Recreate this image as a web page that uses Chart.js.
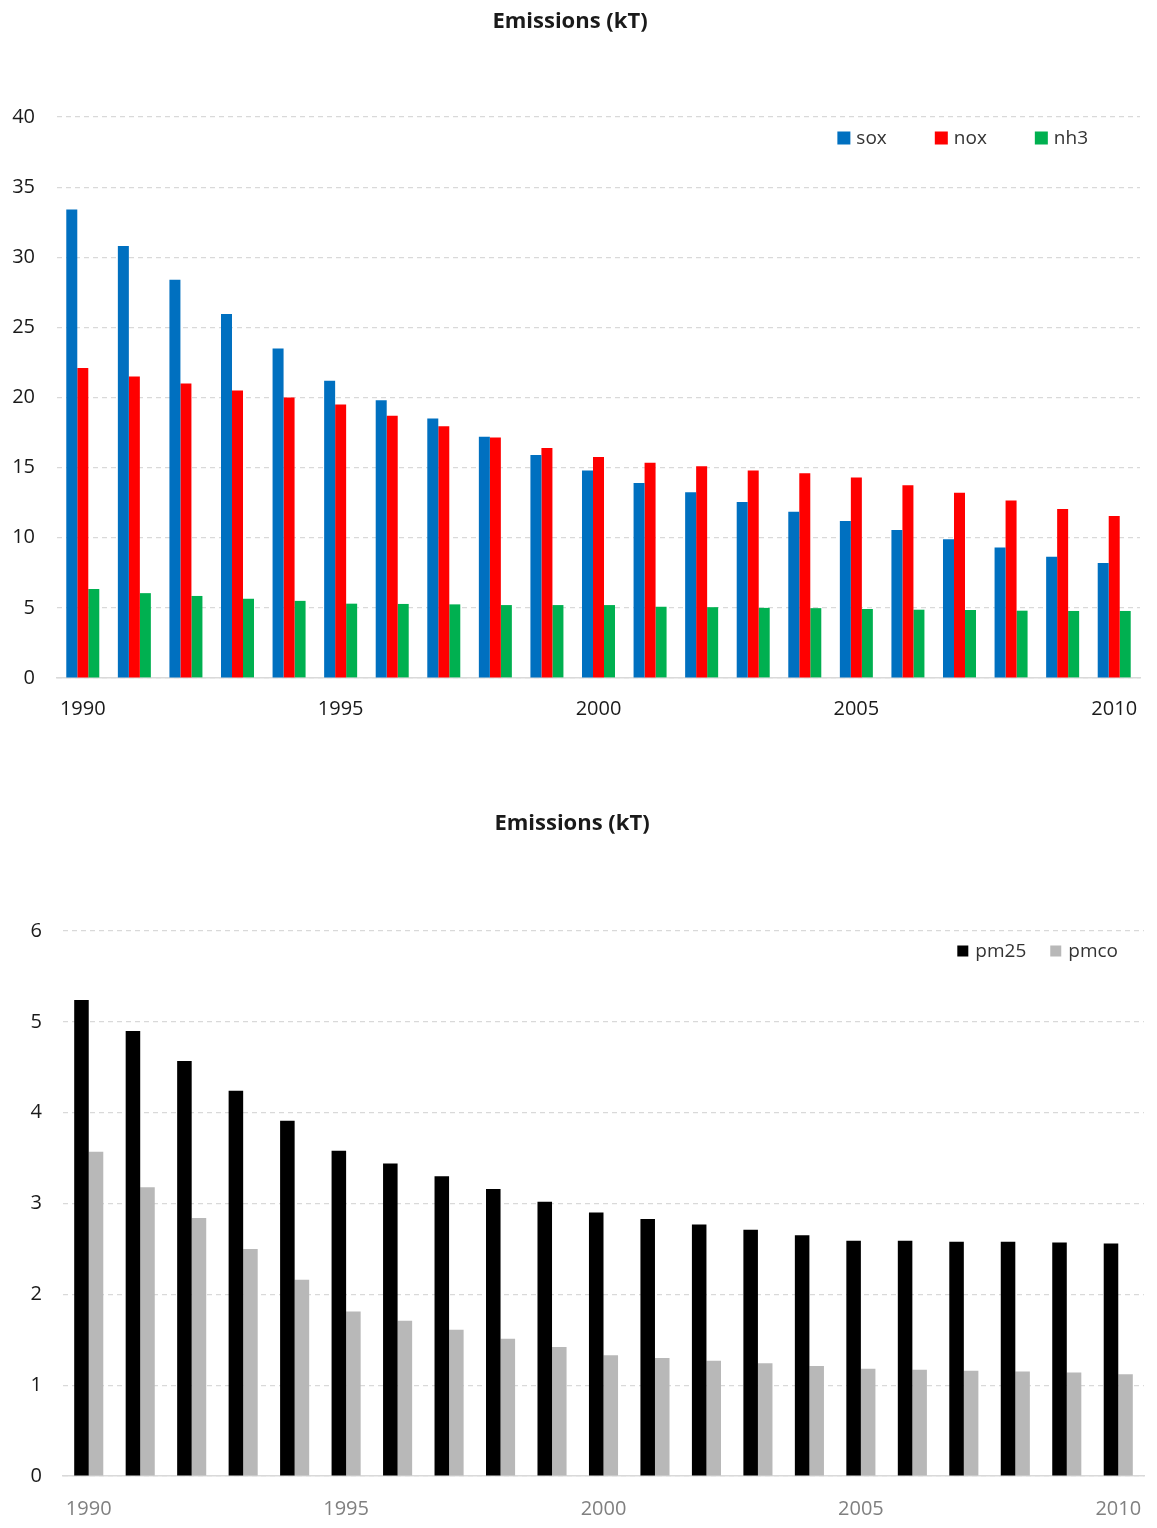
<!DOCTYPE html>
<html>
<head>
<meta charset="utf-8">
<script src="https://cdn.jsdelivr.net/npm/chart.js@4.4.0/dist/chart.umd.min.js"></script>
<style>
  html, body { margin: 0; padding: 0; background: #fff; }
  .panel { position: absolute; left: 0; width: 1157px; }
  #top { top: 0; height: 740px; }
  #bottom { top: 780px; height: 748px; }
</style>
</head>
<body>
<div class="panel" id="top"><canvas id="gasChart"></canvas></div>
<div class="panel" id="bottom"><canvas id="pmChart"></canvas></div>
<script>
const years = [1990, 1991, 1992, 1993, 1994, 1995, 1996, 1997, 1998, 1999, 2000,
               2001, 2002, 2003, 2004, 2005, 2006, 2007, 2008, 2009, 2010];
const labelledYears = [1990, 1995, 2000, 2005, 2010];

const sox = [33.4, 30.8, 28.4, 25.95, 23.5, 21.2, 19.8, 18.5, 17.2, 15.9, 14.8,
             13.9, 13.25, 12.55, 11.85, 11.2, 10.55, 9.9, 9.3, 8.65, 8.2];
const nox = [22.1, 21.5, 21.0, 20.5, 20.0, 19.5, 18.7, 17.95, 17.15, 16.4, 15.75,
             15.35, 15.1, 14.8, 14.6, 14.3, 13.75, 13.2, 12.65, 12.05, 11.55];
const nh3 = [6.35, 6.05, 5.85, 5.65, 5.5, 5.3, 5.28, 5.25, 5.2, 5.2, 5.2,
             5.08, 5.05, 5.0, 4.98, 4.92, 4.87, 4.85, 4.8, 4.78, 4.78];

const pm25 = [5.24, 4.9, 4.57, 4.24, 3.91, 3.58, 3.44, 3.3, 3.16, 3.02, 2.9,
              2.83, 2.77, 2.71, 2.65, 2.59, 2.59, 2.58, 2.58, 2.57, 2.56];
const pmco = [3.57, 3.18, 2.84, 2.5, 2.16, 1.81, 1.71, 1.61, 1.51, 1.42, 1.33,
              1.3, 1.27, 1.24, 1.21, 1.18, 1.17, 1.16, 1.15, 1.14, 1.12];

Chart.defaults.font.family = "'Open Sans', sans-serif";

// legend drawn inside the plot area, anchored to its top right corner
const insideLegend = {
    id: 'insideLegend',
    afterDatasetsDraw(chart, args, opts) {
        const ctx = chart.ctx;
        const area = chart.chartArea;
        const sets = chart.data.datasets;
        ctx.save();
        ctx.font = `${opts.fontSize}px 'Open Sans', sans-serif`;
        ctx.textBaseline = 'middle';
        const widths = sets.map(d => opts.box + opts.textGap + ctx.measureText(d.label).width);
        const total = widths.reduce((a, b) => a + b, 0) + opts.itemGap * (sets.length - 1);
        let x = area.right - opts.right - total;
        const y = area.top + opts.top;
        sets.forEach((d, i) => {
            ctx.fillStyle = d.backgroundColor;
            ctx.fillRect(x, y - opts.box / 2, opts.box, opts.box);
            ctx.fillStyle = opts.color;
            ctx.fillText(d.label, x + opts.box + opts.textGap, y + 1);
            x += widths[i] + opts.itemGap;
        });
        ctx.restore();
    }
};

function makeChart(id, cfg) {
    return new Chart(document.getElementById(id), {
        type: 'bar',
        data: { labels: years, datasets: cfg.datasets },
        plugins: [insideLegend],
        options: {
            responsive: true,
            maintainAspectRatio: false,
            animation: false,
            layout: { padding: { left: 0, right: cfg.padRight, top: 0, bottom: 0 } },
            datasets: {
                bar: { categoryPercentage: cfg.groupWidth, barPercentage: 1, borderWidth: 0 }
            },
            plugins: {
                legend: { display: false },
                tooltip: { enabled: false },
                title: {
                    display: true,
                    text: 'Emissions (kT)',
                    color: '#1a1a1a',
                    font: { size: 22, weight: 'bold' },
                    padding: { top: cfg.titleTop, bottom: cfg.titleBottom }
                },
                insideLegend: cfg.legend
            },
            scales: {
                x: {
                    grid: { display: false, drawTicks: false },
                    border: { display: true, color: '#d9d9d9', width: 1.5 },
                    afterFit: s => {
                        s.height = cfg.xHeight;
                        // the end labels fit inside the offset, no extra side padding
                        s.paddingLeft = 0;
                        s.paddingRight = 0;
                    },
                    ticks: {
                        autoSkip: false,
                        maxRotation: 0,
                        padding: cfg.xPad,
                        color: cfg.xColor,
                        font: { size: 20 },
                        callback: (v, i) => labelledYears.includes(years[i]) ? String(years[i]) : ''
                    }
                },
                y: {
                    min: 0,
                    max: cfg.yMax,
                    grid: { color: '#d9d9d9', drawTicks: false, lineWidth: 1.2 },
                    border: { display: false, dash: [5, 4] },
                    afterFit: s => { s.width = cfg.yWidth; },
                    ticks: {
                        stepSize: cfg.yStep,
                        padding: cfg.yPad,
                        color: '#1a1a1a',
                        font: { size: 20 }
                    }
                }
            }
        }
    });
}

makeChart('gasChart', {
    datasets: [
        { label: 'sox', data: sox, backgroundColor: '#0070C0' },
        { label: 'nox', data: nox, backgroundColor: '#FF0000' },
        { label: 'nh3', data: nh3, backgroundColor: '#00B050' }
    ],
    groupWidth: 0.64,
    padRight: 17,
    yWidth: 57,
    yPad: 22,
    yMax: 40,
    yStep: 5,
    xHeight: 62,
    xPad: 19,
    xColor: '#1a1a1a',
    titleTop: 9,
    titleBottom: 81.6,
    legend: { fontSize: 19, box: 13, textGap: 6, itemGap: 48, right: 52, top: 21, color: '#333' }
});

makeChart('pmChart', {
    datasets: [
        { label: 'pm25', data: pm25, backgroundColor: '#000000' },
        { label: 'pmco', data: pmco, backgroundColor: '#b8b8b8' }
    ],
    groupWidth: 0.565,
    padRight: 13,
    yWidth: 63,
    yPad: 21,
    yMax: 6,
    yStep: 1,
    xHeight: 52,
    xPad: 21,
    xColor: '#808080',
    titleTop: 31,
    titleBottom: 93.6,
    legend: { fontSize: 19, box: 11, textGap: 7, itemGap: 24, right: 26, top: 20, color: '#333' }
});
</script>
</body>
</html>
